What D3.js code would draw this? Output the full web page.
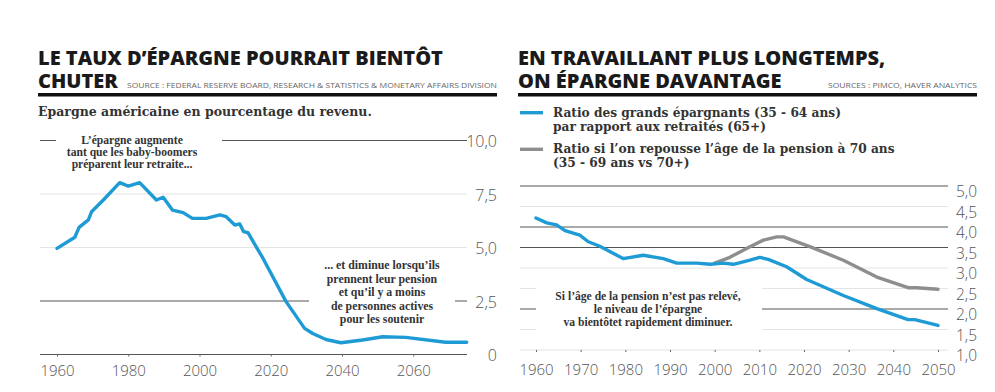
<!DOCTYPE html>
<html>
<head>
<meta charset="utf-8">
<script src="https://cdn.jsdelivr.net/npm/d3@7"></script>
<style>
  body { margin: 0; background: #fff; }
  .title { font-family: "Open Sans", sans-serif; font-weight: 800; font-size: 20px; fill: #1a1a1a; }
  .source { font-family: "Open Sans", sans-serif; font-weight: 400; font-size: 7px; fill: #666; }
  .serif { font-family: "DejaVu Serif", serif; font-weight: bold; fill: #333; }
  .note { font-family: "Liberation Serif", serif; font-weight: bold; fill: #333; }
  .ax text { font-family: "Open Sans", sans-serif; font-weight: 300; fill: #555; }
</style>
</head>
<body>
<div id="chart"></div>
<script>
// left chart data: US savings rate, % of income
const L_YEARS = [1960, 1965, 1966.2, 1968.8, 1969.7, 1973, 1977.6, 1980, 1983.2, 1987.9, 1989.8,
                 1992.4, 1995.4, 1998, 2001.9, 2005.7, 2007.5, 2009.9, 2011.3, 2012.4, 2013.6,
                 2017.8, 2024.3, 2029.5, 2031.8, 2035.5, 2039.7, 2045.8, 2051.4, 2057.9, 2069.1, 2075];
const L_VALUES = [4.96, 5.48, 5.94, 6.29, 6.67, 7.22, 8.03, 7.87, 8.03, 7.22, 7.35,
                  6.75, 6.63, 6.36, 6.36, 6.52, 6.44, 6.05, 6.10, 5.74, 5.69,
                  4.50, 2.47, 1.22, 0.98, 0.70, 0.55, 0.68, 0.83, 0.80, 0.57, 0.57];
const L_XTICKS = [1960, 1980, 2000, 2020, 2040, 2060];
const L_YTICKS = [0, 2.5, 5, 7.5, 10];
const L_YDARK = [0, 2.5, 10];

// right chart data: ratio of savers to retirees
const R_BLUE_YEARS = [1960, 1962.4, 1964.6, 1966.5, 1969.8, 1971.7, 1974.3, 1979.5, 1984, 1988.5,
                      1991.5, 1996, 1999, 2001.9, 2004.2, 2007.9, 2010.1, 2012, 2016.1, 2020.6,
                      2028.8, 2036.3, 2043.3, 2044.8, 2050];
const R_BLUE_VALUES = [4.22, 4.10, 4.05, 3.91, 3.80, 3.64, 3.53, 3.23, 3.31, 3.23,
                       3.12, 3.12, 3.09, 3.12, 3.09, 3.19, 3.26, 3.21, 3.03, 2.72,
                       2.33, 2.01, 1.74, 1.74, 1.60];
const R_GRAY_YEARS = [2000, 2003.4, 2007.9, 2010.9, 2013.9, 2015.4, 2021.3, 2028.8, 2036.3, 2043.3, 2045.2, 2050];
const R_GRAY_VALUES = [3.12, 3.26, 3.52, 3.68, 3.76, 3.76, 3.52, 3.19, 2.78, 2.52, 2.52, 2.48];
const R_XTICKS = [1960, 1970, 1980, 1990, 2000, 2010, 2020, 2030, 2040, 2050];
const R_YTICKS = [1, 1.5, 2, 2.5, 3, 3.5, 4, 4.5, 5];
const R_YDARK = [2, 3.5, 4, 5];

const BLUE = "#1e9bd4";
const GRAY = "#8e8e8e";
const fmt = d3.format(".1f");
const comma = (d) => d === 0 ? "0" : fmt(d).replace(".", ",");

const SVG = d3.select("#chart")
              .append("svg")
                .attr("width", 995)
                .attr("height", 392);

// header block: two-line title, source, thick rule
function header(x0, x1, lines, source, srcX) {
  lines.forEach((t, i) => {
    SVG.append("text").attr("class", "title")
       .attr("x", x0).attr("y", 65 + i * 23.3).text(t);
  });
  SVG.append("text").attr("class", "source")
     .attr("x", srcX).attr("y", 87.5)
     .attr("textLength", x1 - srcX).attr("lengthAdjust", "spacingAndGlyphs")
     .text(source);
  SVG.append("rect").attr("x", x0).attr("y", 93).attr("width", x1 - x0).attr("height", 3.5)
     .attr("fill", "#111");
}

// gridlines, axes and label blanks for one panel
function panel(cfg) {
  const g = SVG.append("g");
  g.selectAll("line.grid")
    .data(cfg.yticks)
    .enter()
    .append("line")
      .attr("x1", cfg.gx0).attr("x2", cfg.gx1)
      .attr("y1", (d) => cfg.y(d)).attr("y2", (d) => cfg.y(d))
      .attr("stroke", (d) => cfg.dark.includes(d) ? "#555" : "#e4e4e4")
      .attr("stroke-width", 1);

  // y labels on the right
  const ya = g.append("g").attr("class", "ax")
    .attr("transform", "translate(" + cfg.labelX + "," + cfg.labelDy + ")")
    .call(d3.axisRight(cfg.y).tickValues(cfg.yticks).tickSize(0).tickFormat(comma));
  ya.select(".domain").remove();
  ya.selectAll("text").attr("x", 0).attr("text-anchor", "end")
    .attr("font-size", cfg.yFont).attr("font-family", null);

  // x axis
  const xa = g.append("g").attr("class", "ax")
    .attr("transform", "translate(0," + cfg.y(cfg.y.domain()[0]) + ")")
    .call(d3.axisBottom(cfg.x).tickValues(cfg.xticks).tickSize(2).tickFormat(d3.format("d")));
  xa.select(".domain").remove();
  xa.selectAll("line").attr("stroke", "#666");
  xa.selectAll("text").attr("y", cfg.xTextY).attr("font-size", cfg.xFont)
    .attr("font-family", null);
  return g;
}

function series(x, y, years, values, color) {
  const line = d3.line().x((d) => x(d[0])).y((d) => y(d[1]));
  SVG.append("path")
     .datum(years.map((yr, i) => [yr, values[i]]))
     .attr("d", line)
     .attr("fill", "none")
     .attr("stroke", color)
     .attr("stroke-width", 3.4)
     .attr("stroke-linejoin", "round")
     .attr("stroke-linecap", "round");
}

function note(cx, y0, step, size, lines, box) {
  SVG.append("rect").attr("x", box[0]).attr("y", box[1])
     .attr("width", box[2] - box[0]).attr("height", box[3] - box[1]).attr("fill", "#fff");
  lines.forEach((t, i) => {
    SVG.append("text").attr("class", "note")
       .attr("x", cx).attr("y", y0 + i * step)
       .attr("text-anchor", "middle").attr("font-size", size)
       .text(t);
  });
}

// ---------- left panel ----------
header(38, 497, ["LE TAUX D’ÉPARGNE POURRAIT BIENTÔT", "CHUTER"],
       "SOURCE : FEDERAL RESERVE BOARD, RESEARCH & STATISTICS & MONETARY AFFAIRS DIVISION", 127);

SVG.append("text").attr("class", "serif")
   .attr("x", 38).attr("y", 116).attr("font-size", 12.5)
   .text("Epargne américaine en pourcentage du revenu.");

const LX = d3.scaleLinear().domain([1960, 2040]).range([57, 342]);
const LY = d3.scaleLinear().domain([0, 10]).range([354.5, 140.5]);

panel({x: LX, y: LY, xticks: L_XTICKS, yticks: L_YTICKS, dark: L_YDARK,
       gx0: 40, gx1: 467, labelX: 497, labelDy: 1, yFont: 16, xFont: 15, xTextY: 11});

note(132, 144, 11.8, 11.6, ["L’épargne augmente", "tant que les baby-boomers", "préparent leur retraite..."],
     [56, 130, 222, 172]);
note(382, 269, 13.5, 11.8, ["... et diminue lorsqu’ils", "prennent  leur pension", "et qu’il y a moins",
     "de personnes actives", "pour les soutenir"],
     [309, 256, 455, 326]);

series(LX, LY, L_YEARS, L_VALUES, BLUE);

// ---------- right panel ----------
header(518, 977, ["EN TRAVAILLANT PLUS LONGTEMPS,", "ON ÉPARGNE DAVANTAGE"],
       "SOURCES : PIMCO, HAVER ANALYTICS", 828);

// legend
const LEGEND = [
  {color: BLUE, lines: ["Ratio des grands épargnants (35 - 64 ans)", "par rapport aux retraités (65+)"]},
  {color: GRAY, lines: ["Ratio si l’on repousse l’âge de la pension à 70 ans", "(35 - 69 ans vs 70+)"]}
];
LEGEND.forEach((d, i) => {
  const y0 = 116.7 + i * 36.6;
  SVG.append("line").attr("x1", 520).attr("x2", 543)
     .attr("y1", y0 - 4).attr("y2", y0 - 4)
     .attr("stroke", d.color).attr("stroke-width", 3.4);
  d.lines.forEach((t, j) => {
    SVG.append("text").attr("class", "serif")
       .attr("x", 553).attr("y", y0 + j * 14).attr("font-size", 12.2)
       .text(t);
  });
});

const RX = d3.scaleLinear().domain([1960, 2050]).range([536, 938]);
const RY = d3.scaleLinear().domain([1, 5]).range([350, 186]);

panel({x: RX, y: RY, xticks: R_XTICKS, yticks: R_YTICKS, dark: R_YDARK,
       gx0: 520, gx1: 948, labelX: 977, labelDy: 6, yFont: 15.5, xFont: 15, xTextY: 14});

note(648, 300, 13, 11.6, ["Si l’âge de la pension n’est pas relevé,", "le niveau de l’épargne",
     "va bientôtet rapidement diminuer."],
     [536, 280, 762, 334]);

series(RX, RY, R_GRAY_YEARS, R_GRAY_VALUES, GRAY);
series(RX, RY, R_BLUE_YEARS, R_BLUE_VALUES, BLUE);
</script>
</body>
</html>
